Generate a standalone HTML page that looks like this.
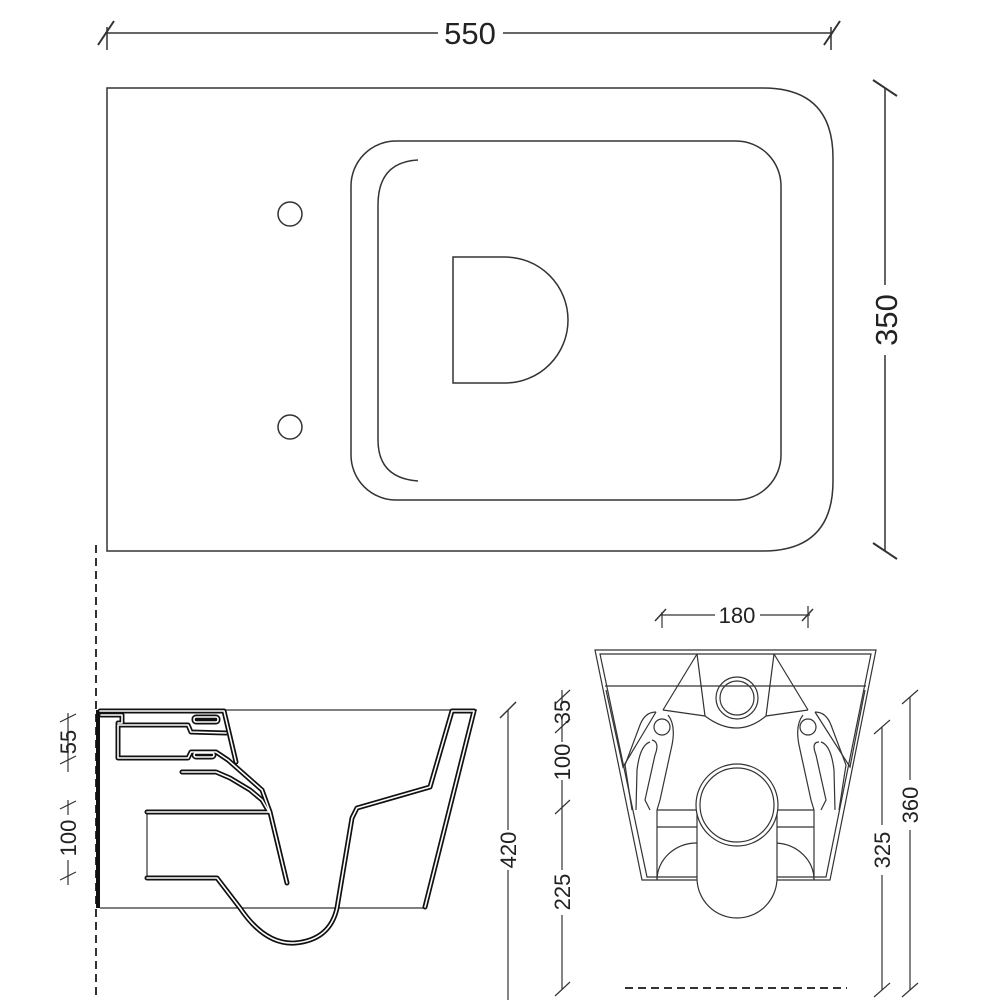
<!DOCTYPE html>
<html><head><style>html,body{margin:0;padding:0;background:#fff}svg{display:block}</style></head>
<body>
<svg width="1000" height="1000" viewBox="0 0 1000 1000" xmlns="http://www.w3.org/2000/svg" font-family="Liberation Sans, sans-serif">
<g fill="none" stroke="#333" stroke-width="1.5">
<line x1="105" y1="33" x2="438" y2="33"/><line x1="503" y1="33" x2="833" y2="33"/>
<line x1="98" y1="45" x2="114" y2="21" stroke-width="2"/><line x1="824" y1="45" x2="840" y2="21" stroke-width="2"/>
<line x1="107" y1="27" x2="107" y2="50"/><line x1="831" y1="27" x2="831" y2="50"/>
<line x1="885" y1="88" x2="885" y2="285"/><line x1="885" y1="355" x2="885" y2="551"/>
<line x1="873" y1="80" x2="897" y2="96" stroke-width="2"/><line x1="873" y1="543" x2="897" y2="559" stroke-width="2"/>
<path d="M107,88 L763,88 Q833,88 833,158 L833,481 Q833,551 763,551 L107,551 Z"/>
<rect x="351" y="141" width="430" height="359" rx="45"/>
<path d="M418,160 Q378,162 378,205 L378,440 Q378,478 418,481"/>
<path d="M453,257 L505,257 A63,63 0 0 1 505,383 L453,383 Z"/>
<circle cx="290" cy="214" r="12"/><circle cx="290" cy="427" r="12"/>
</g>
<g fill="#222" font-size="31" text-anchor="middle">
<text x="470" y="44">550</text>
<text transform="translate(897,320) rotate(-90)">350</text>
</g>
<g fill="none" stroke="#333" stroke-width="1.2">
<line x1="96" y1="545" x2="96" y2="1000" stroke-dasharray="8,5" stroke-width="2"/>
<line x1="100" y1="710" x2="477" y2="710"/>
<line x1="100" y1="908" x2="425" y2="908"/>
<line x1="147" y1="812" x2="147" y2="878"/>
<line x1="508" y1="710" x2="508" y2="830"/><line x1="508" y1="870" x2="508" y2="1000"/>
<line x1="500" y1="718" x2="516" y2="702" stroke-width="1.5"/>
<line x1="68" y1="713" x2="68" y2="772"/><line x1="60" y1="722" x2="76" y2="714"/><line x1="60" y1="764" x2="76" y2="756"/>
<line x1="68" y1="800" x2="68" y2="815"/><line x1="68" y1="860" x2="68" y2="885"/>
<line x1="60" y1="809" x2="76" y2="801"/><line x1="60" y1="880" x2="76" y2="872"/>
</g>
<line x1="98" y1="710" x2="98" y2="908" stroke="#111" stroke-width="4"/>
<g fill="none" stroke-linejoin="round" stroke-linecap="round">
<g stroke="#111" stroke-width="5">
<path d="M100,711 L224,711 L236,762"/>
<path d="M101,715 L122,715 L122,723 L118,723 M118,725 L188,725 L191,732 L226,733"/>
<path d="M118,725 L118,758 L188,758 L191,752 L216,752 L228,760 L245,775 L262,790 L270,812 L287,883"/>
<path d="M182,772 L216,772 L230,778 L250,790 L262,800 L269,812"/>
<path d="M147,812 L270,812"/>
<path d="M147,878 L217,878 L240,908 Q265,945 295,943 Q330,940 337,908 L352,818 L357,808 L430,787 L452,711 L474,711 L425,907"/>
<rect x="194" y="717" width="24" height="5" rx="2"/>
<rect x="194" y="753" width="20" height="4" rx="2"/>
</g>
<g stroke="#fff" stroke-width="1.6">
<path d="M100,711 L224,711 L236,762"/>
<path d="M101,715 L122,715 L122,723 L118,723 M118,725 L188,725 L191,732 L226,733"/>
<path d="M118,725 L118,758 L188,758 L191,752 L216,752 L228,760 L245,775 L262,790 L270,812 L287,883"/>
<path d="M182,772 L216,772 L230,778 L250,790 L262,800 L269,812"/>
<path d="M147,812 L270,812"/>
<path d="M147,878 L217,878 L240,908 Q265,945 295,943 Q330,940 337,908 L352,818 L357,808 L430,787 L452,711 L474,711 L425,907"/>
<rect x="194" y="717" width="24" height="5" rx="2"/>
<rect x="194" y="753" width="20" height="4" rx="2"/>
</g>
</g>
<g fill="#222" font-size="22" text-anchor="middle">
<text transform="translate(76,742) rotate(-90)">55</text>
<text transform="translate(76,838) rotate(-90)">100</text>
<text transform="translate(516,850) rotate(-90)">420</text>
</g>
<g fill="none" stroke="#333" stroke-width="1.2">
<line x1="660" y1="615" x2="715" y2="615"/><line x1="760" y1="615" x2="810" y2="615"/>
<line x1="655" y1="621" x2="666" y2="609" stroke-width="1.5"/><line x1="802" y1="621" x2="813" y2="609" stroke-width="1.5"/>
<line x1="662" y1="612" x2="662" y2="628"/><line x1="808" y1="606" x2="808" y2="628"/>
<path d="M595,650 L876,650 L830,880 L642,880 Z"/>
<path d="M600,654 L871,654 L826,877 L647,877 Z"/>
<line x1="605" y1="686" x2="866" y2="686"/>
<path d="M606,690 L623,767 L656,712"/>
<path d="M865,690 L850,767 L815,712"/>
<line x1="697" y1="654" x2="705" y2="716"/><line x1="774" y1="654" x2="766" y2="716"/>
<line x1="697" y1="654" x2="663" y2="710"/><line x1="774" y1="654" x2="808" y2="710"/>
<path d="M663,710 L705,716 Q737,740 766,716 L808,710"/>
<circle cx="737" cy="698" r="21"/><circle cx="737" cy="698" r="17"/>
<circle cx="662" cy="727" r="8"/><circle cx="808" cy="727" r="8"/>
<path d="M656,712 Q645,712 640,725 L625,765 L632,810 M668,715 Q676,725 672,745 L660,800 L657,810"/>
<path d="M652,740 Q660,742 655,755 L645,800 L650,810 M650,742 Q640,745 637,770 L636,810"/>
<path d="M815,712 Q826,712 831,725 L846,765 L839,810 M803,715 Q795,725 799,745 L811,800 L814,810"/>
<path d="M819,742 Q811,742 816,755 L826,800 L821,810 M821,742 Q831,745 834,770 L835,810"/>
<line x1="657" y1="810" x2="657" y2="880"/><line x1="814" y1="810" x2="814" y2="880"/>
<line x1="657" y1="810" x2="698" y2="810"/><line x1="776" y1="810" x2="814" y2="810"/>
<line x1="657" y1="827" x2="698" y2="827"/><line x1="776" y1="827" x2="814" y2="827"/>
<path d="M657,880 A40,37 0 0 1 697,843"/><path d="M814,880 A40,37 0 0 0 776,843"/>
<path d="M697,805 L697,878 A40,40 0 0 0 777,878 L777,805" fill="#fff"/>
<circle cx="737" cy="805" r="41" fill="#fff"/><circle cx="737" cy="805" r="37"/>
<line x1="562" y1="690" x2="562" y2="702"/><line x1="562" y1="720" x2="562" y2="742"/><line x1="562" y1="780" x2="562" y2="870"/><line x1="562" y1="915" x2="562" y2="990"/>
<line x1="555" y1="704" x2="570" y2="690"/><line x1="555" y1="733" x2="570" y2="719"/><line x1="555" y1="814" x2="570" y2="800"/><line x1="555" y1="996" x2="570" y2="982"/>
<line x1="882" y1="727" x2="882" y2="825"/><line x1="882" y1="875" x2="882" y2="990"/>
<line x1="874" y1="734" x2="890" y2="720"/><line x1="874" y1="997" x2="890" y2="983"/>
<line x1="910" y1="697" x2="910" y2="780"/><line x1="910" y1="830" x2="910" y2="990"/>
<line x1="902" y1="704" x2="918" y2="690"/><line x1="902" y1="997" x2="918" y2="983"/>
<line x1="625" y1="988" x2="847" y2="988" stroke-dasharray="8,5" stroke-width="2"/>
</g>
<g fill="#222" font-size="22" text-anchor="middle">
<text x="737" y="623">180</text>
<text transform="translate(570,712) rotate(-90)">35</text>
<text transform="translate(570,762) rotate(-90)">100</text>
<text transform="translate(570,892) rotate(-90)">225</text>
<text transform="translate(890,850) rotate(-90)">325</text>
<text transform="translate(918,805) rotate(-90)">360</text>
</g>
</svg>
</body></html>
